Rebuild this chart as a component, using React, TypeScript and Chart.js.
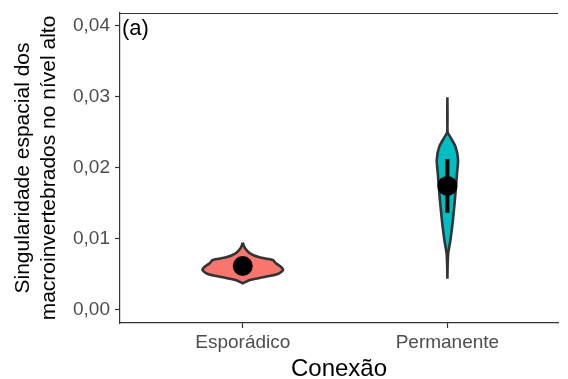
import React, { useEffect, useRef } from "react";
import { Chart, registerables } from "chart.js";

Chart.register(...registerables);

const categories = ["Esporádico", "Permanente"];
const yTicks = [0, 0.01, 0.02, 0.03, 0.04];

// Violin outlines: value along y, half-width in category units
const espValues = [0.00939, 0.0086, 0.0079, 0.00733, 0.00695, 0.00649, 0.006, 0.00554, 0.00498, 0.00451, 0.00413, 0.00367];
const espHalfWidths = [0, 0.011, 0.035, 0.081, 0.147, 0.162, 0.186, 0.197, 0.171, 0.099, 0.035, 0];
const permValues = [0.0299, 0.025, 0.0243, 0.0229, 0.0211, 0.0192, 0.0159, 0.0126, 0.0098, 0.0079, 0.006, 0.0043];
const permHalfWidths = [0, 0.001, 0.014, 0.04, 0.052, 0.047, 0.038, 0.027, 0.015, 0.004, 0.001, 0];

const means = [0.0061, 0.0174];
const errLow = [0.0058, 0.0136];
const errHigh = [0.0065, 0.0212];

const fillColors = ["#F8766D", "#00BFC4"];
const FONT = "'Liberation Sans', Arial, sans-serif";

function violinPoints(center: number, values: number[], half: number[]) {
  const right = values.map((v, i) => ({ x: center + half[i], y: v }));
  const left = values.map((v, i) => ({ x: center - half[i], y: v })).reverse();
  return [...right, ...left];
}

const frame = {
  id: "frame",
  afterDatasetsDraw(chart: any) {
    const { ctx, chartArea } = chart;
    ctx.save();
    ctx.strokeStyle = "#333333";
    ctx.lineWidth = 1.2;
    ctx.beginPath();
    ctx.moveTo(chartArea.left, chartArea.top + 0.5);
    ctx.lineTo(chartArea.right, chartArea.top + 0.5);
    ctx.stroke();
    ctx.fillStyle = "#000000";
    ctx.font = `22px ${FONT}`;
    ctx.textBaseline = "alphabetic";
    ctx.textAlign = "left";
    ctx.fillText("(a)", chartArea.left + 2, chartArea.top + 22);
    ctx.restore();
  },
};

export default function App() {
  const ref = useRef<HTMLCanvasElement | null>(null);

  useEffect(() => {
    if (!ref.current) return;
    const violins = [
      violinPoints(0, espValues, espHalfWidths),
      violinPoints(1, permValues, permHalfWidths),
    ];
    const datasets: any[] = [];
    violins.forEach((pts, i) => {
      datasets.push({
        data: pts,
        showLine: true,
        fill: "shape",
        backgroundColor: fillColors[i],
        borderColor: "#333333",
        borderWidth: 2.6,
        tension: 0.25,
        pointRadius: 0,
        order: 3,
      });
    });
    categories.forEach((_, i) => {
      datasets.push({
        data: [
          { x: i, y: errLow[i] },
          { x: i, y: errHigh[i] },
        ],
        showLine: true,
        borderColor: "#000000",
        borderWidth: 4,
        pointRadius: 0,
        order: 2,
      });
    });
    datasets.push({
      data: means.map((m, i) => ({ x: i, y: m })),
      pointRadius: 10,
      pointBackgroundColor: "#000000",
      pointBorderColor: "#000000",
      pointBorderWidth: 0,
      showLine: false,
      order: 1,
    });

    const chart = new Chart(ref.current, {
      type: "scatter",
      data: { datasets },
      plugins: [frame],
      options: {
        animation: false,
        responsive: true,
        maintainAspectRatio: false,
        layout: { padding: { top: 13, right: 0, left: 0, bottom: 0 } },
        plugins: { legend: { display: false }, tooltip: { enabled: false } },
        scales: {
          x: {
            type: "linear",
            min: -0.6,
            max: 1.5405,
            afterBuildTicks: (s: any) => {
              s.ticks = categories.map((_, i) => ({ value: i }));
            },
            afterFit: (s: any) => {
              s.height = 56;
              s.paddingLeft = 0;
              s.paddingRight = 0;
              s.paddingTop = 0;
              s.paddingBottom = 0;
            },
            ticks: {
              callback: (v: any) => categories[v as number],
              color: "#4D4D4D",
              font: { family: FONT, size: 19 },
              padding: 3,
              maxRotation: 0,
            },
            grid: {
              display: true,
              drawOnChartArea: false,
              drawTicks: true,
              tickLength: 5,
              tickColor: "#333333",
              tickWidth: 1.2,
            },
            border: { display: true, color: "#333333", width: 1.2 },
            title: {
              display: true,
              text: "Conexão",
              color: "#000000",
              font: { family: FONT, size: 24, lineHeight: 1 },
              padding: { top: 0, bottom: -2 },
            },
          },
          y: {
            type: "linear",
            min: -0.001932,
            max: 0.04179,
            afterBuildTicks: (s: any) => {
              s.ticks = yTicks.map((v) => ({ value: v }));
            },
            afterFit: (s: any) => {
              s.width = 120;
              s.paddingLeft = 0;
              s.paddingRight = 0;
              s.paddingTop = 0;
              s.paddingBottom = 0;
            },
            ticks: {
              callback: (v: any) => (v as number).toFixed(2).replace(".", ","),
              color: "#4D4D4D",
              font: { family: FONT, size: 19 },
              padding: 5,
            },
            grid: {
              display: true,
              drawOnChartArea: false,
              drawTicks: true,
              tickLength: 5,
              tickColor: "#333333",
              tickWidth: 1.2,
            },
            border: { display: true, color: "#333333", width: 1.2 },
            title: {
              display: true,
              text: ["Singularidade espacial dos", "macroinvertebrados no nível alto"],
              color: "#000000",
              font: { family: FONT, size: 21, lineHeight: 1.24 },
              padding: { top: 10, bottom: 0 },
            },
          },
        },
      },
    });
    return () => chart.destroy();
  }, []);

  return (
    <div style={{ position: "absolute", left: 0, top: 0, width: 568, height: 379 }}>
      <canvas ref={ref} />
    </div>
  );
}
